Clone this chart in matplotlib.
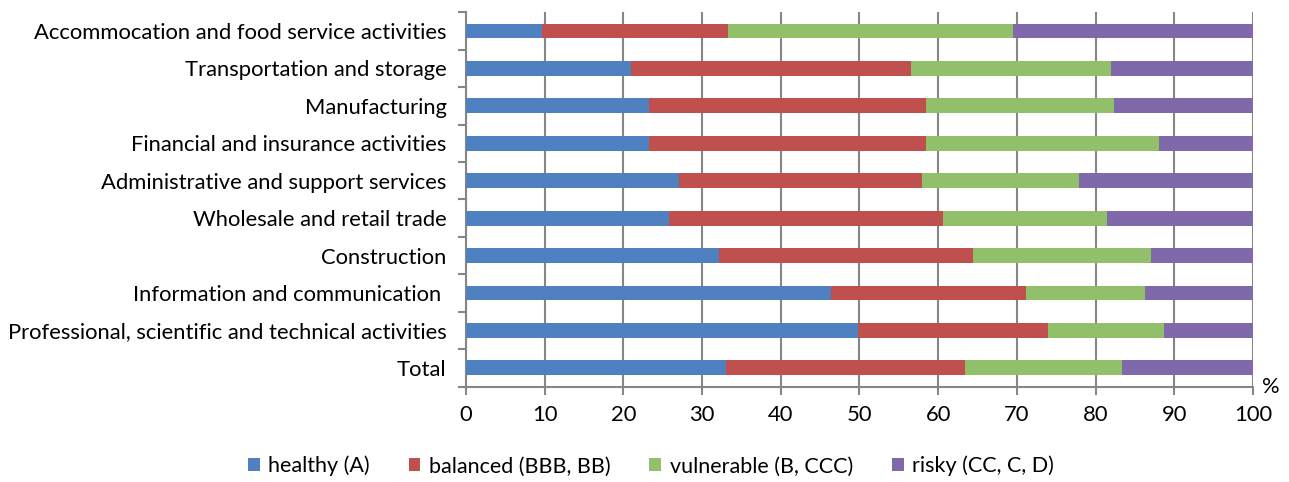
import numpy as np
import matplotlib
matplotlib.use("Agg")
from matplotlib import pyplot as plt

# categories bottom to top
sectors = [
    "Total",
    "Professional, scientific and technical activities",
    "Information and communication ",
    "Construction",
    "Wholesale and retail trade",
    "Administrative and support services",
    "Financial and insurance activities",
    "Manufacturing",
    "Transportation and storage",
    "Accommocation and food service activities",
]
healthy = [33.1, 49.8, 46.4, 32.1, 25.8, 27.1, 23.2, 23.3, 21.0, 9.7]
balanced = [30.3, 24.2, 24.8, 32.3, 34.8, 30.8, 35.2, 35.2, 35.5, 23.6]
vulnerable = [20.0, 14.7, 15.1, 22.7, 20.9, 20.0, 29.7, 23.8, 25.5, 36.2]
risky = [16.6, 11.3, 13.7, 12.9, 18.5, 22.1, 11.9, 17.7, 18.0, 30.5]

series = [
    ("healthy (A)", healthy, "#4F81C0"),
    ("balanced (BBB, BB)", balanced, "#C0504D"),
    ("vulnerable (B, CCC)", vulnerable, "#92BF6A"),
    ("risky (CC, C, D)", risky, "#7F69AA"),
]
xticks = list(range(0, 101, 10))

plt.rcParams['font.family'] = ['Lato', 'DejaVu Sans']

fig = plt.figure(figsize=(12.89, 4.82), dpi=100)
ax = fig.add_axes([0.3615, 0.198, 0.6105, 0.7765])

grid_color = "#868686"
y = np.arange(len(sectors))
left = np.zeros(len(sectors))
for label, vals, color in series:
    vals = np.array(vals)
    ax.barh(y, vals, left=left, height=0.4, color=color, label=label, zorder=3)
    left += vals

ax.set_xlim(0, 100)
ax.set_ylim(-0.5, len(sectors) - 0.5)
ax.set_xticks(xticks)
ax.set_xticklabels([str(t) for t in xticks])
ax.set_yticks(y)
ax.set_yticklabels(sectors)
ax.set_yticks(np.arange(-0.5, len(sectors)), minor=True)
ax.tick_params(axis='y', which='major', length=0, pad=14, labelsize=15.8)
ax.tick_params(axis='y', which='minor', length=6, width=1.5, color=grid_color)
ax.tick_params(axis='x', length=6, width=1.5, color=grid_color, labelsize=15.8, pad=7)
ax.xaxis.grid(True, color=grid_color, linewidth=1.5, zorder=0)
ax.set_axisbelow(True)
for side in ['top', 'right']:
    ax.spines[side].set_visible(False)
for side in ['left', 'bottom']:
    ax.spines[side].set_color(grid_color)
    ax.spines[side].set_linewidth(1.5)

ax.text(1.011, 0.0, "%", transform=ax.transAxes, fontsize=15.8, ha='left', va='center')

fig.legend(loc='center', bbox_to_anchor=(0.505, 0.033), ncol=4, frameon=False,
           fontsize=15.5, handlelength=0.55, handleheight=0.55, handletextpad=0.4,
           columnspacing=1.8)

fig.savefig("out.png", dpi=100)
